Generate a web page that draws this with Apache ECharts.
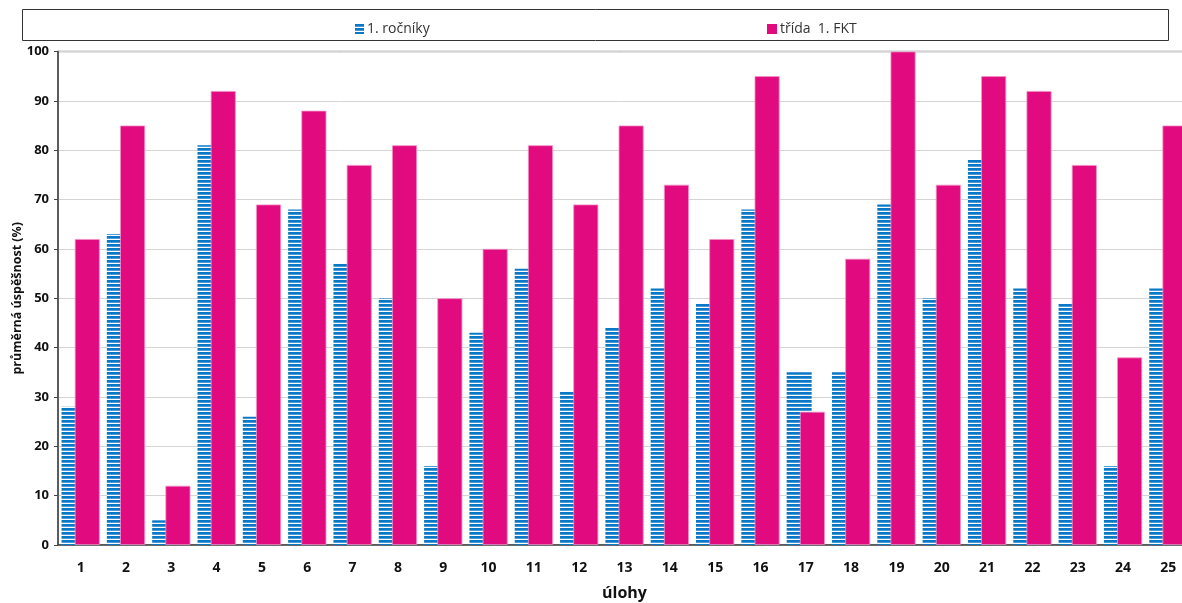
<!DOCTYPE html>
<html>
<head>
<meta charset="utf-8">
<script src="https://cdn.jsdelivr.net/npm/echarts@6/dist/echarts.min.js"></script>
<style>html,body{margin:0;padding:0;background:#fff}#c{width:1182px;height:603px}</style>
</head>
<body>
<div id="c"></div>
<script>
const categories = ['1','2','3','4','5','6','7','8','9','10','11','12','13','14','15','16','17','18','19','20','21','22','23','24','25'];
const rocnikyValues = [28,63,5,81,26,68,57,50,16,43,56,31,44,52,49,68,35,35,69,50,78,52,49,16,52];
const tridaValues = [62,85,12,92,69,88,77,81,50,60,81,69,85,73,62,95,27,58,100,73,95,92,77,38,85];
const yTicks = [0,10,20,30,40,50,60,70,80,90,100];
const seriesNames = ['1. ročníky', 'třída  1. FKT'];
const axisNames = { x: 'úlohy', y: 'průměrná úspěšnost (%)' };

// striped pattern for the first series
const pc = document.createElement('canvas');
pc.width = 4; pc.height = 4;
const pctx = pc.getContext('2d');
pctx.fillStyle = '#fff'; pctx.fillRect(0,0,4,4);
pctx.fillStyle = '#0a78c4'; pctx.fillRect(0,0,4,2);
pctx.fillStyle = '#4a9cd8'; pctx.fillRect(0,2,4,1);
const stripe = { image: pc, repeat: 'repeat' };
const PINK = '#e20a7f';
const FONT = 'Open Sans';

const chart = echarts.init(document.getElementById('c'), null, { renderer: 'canvas' });
chart.setOption({
  animation: false,
  textStyle: { fontFamily: FONT },
  graphic: [{
    type: 'rect', left: 22, top: 9, shape: { width: 1146, height: 31 },
    style: { fill: '#fff', stroke: '#333', lineWidth: 1 }, z: -1
  }],
  legend: [
    { data: [seriesNames[0]], left: 350, top: 17, icon: 'rect', itemWidth: 9, itemHeight: 10, itemGap: 0,
      textStyle: { fontFamily: FONT, fontSize: 14, color: '#333', padding: [0,0,0,-2] } },
    { data: [seriesNames[1]], left: 762, top: 17, icon: 'rect', itemWidth: 10, itemHeight: 10, itemGap: 0,
      itemStyle: { borderWidth: 0 },
      textStyle: { fontFamily: FONT, fontSize: 14, color: '#333', padding: [0,0,0,-2] } }
  ],
  grid: { left: 58, top: 51.5, width: 1133, height: 493.5, containLabel: false, outerBoundsMode: 'none',
          show: true, borderColor: '#888', borderWidth: 1.5, backgroundColor: 'transparent' },
  xAxis: {
    type: 'category', data: categories,
    name: axisNames.x, nameLocation: 'middle', nameGap: 40,
    nameTextStyle: { fontFamily: FONT, fontSize: 16, fontWeight: 'bold', color: '#111' },
    axisLine: { lineStyle: { color: '#444', width: 1.5 } },
    axisTick: { length: 6, lineStyle: { color: '#444' } },
    axisLabel: { margin: 16, fontFamily: FONT, fontSize: 14, fontWeight: 'bold', color: '#111' }
  },
  yAxis: {
    type: 'value', min: yTicks[0], max: yTicks[yTicks.length-1], interval: 10,
    name: axisNames.y, nameLocation: 'middle', nameRotate: 90, nameGap: 34, nameMoveOverlap: false,
    nameTextStyle: { fontFamily: FONT, fontSize: 12.5, fontWeight: 'bold', color: '#111' },
    axisLine: { show: true, lineStyle: { color: '#444', width: 1.5 } },
    axisTick: { show: true, inside: false, length: 4, lineStyle: { color: '#444' } },
    axisLabel: { margin: 9, fontFamily: FONT, fontSize: 13, fontWeight: 'bold', color: '#111' },
    splitLine: { lineStyle: { color: '#d4d4d4', width: 1 } }
  },
  series: [
    { name: seriesNames[0], type: 'bar', data: rocnikyValues, barWidth: 25, barGap: '-47%',
      itemStyle: { color: stripe } },
    { name: seriesNames[1], type: 'bar', data: tridaValues, barWidth: 25,
      itemStyle: { color: PINK, borderColor: '#f291c4', borderWidth: 0.8 } }
  ]
});
</script>
</body>
</html>
